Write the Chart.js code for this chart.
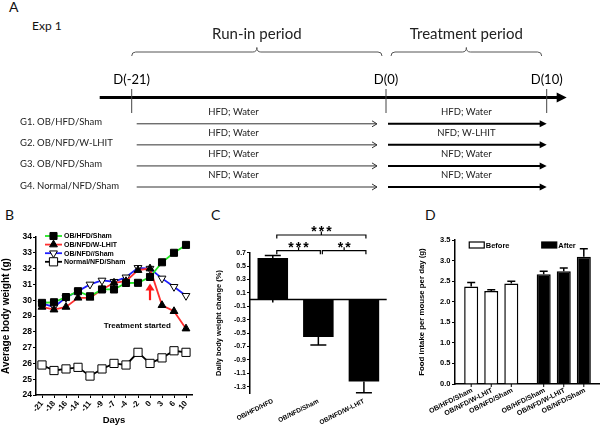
<!DOCTYPE html>
<html>
<head>
<meta charset="utf-8">
<script src="https://cdn.jsdelivr.net/npm/chart.js@4.4.1/dist/chart.umd.min.js"></script>
<style>
    body { margin:0; background:#fff; }
    #fig { position:relative; width:600px; height:427px; overflow:hidden; }
    canvas { position:absolute; }
    .tag { position:absolute; font-family:Lato, sans-serif; color:#111; line-height:16px; }
</style>
</head>
<body>
<div id="fig">
    <div class="tag" style="left:9px;top:-1px;font-size:14px">A</div>
    <div class="tag" style="left:32px;top:18px;font-size:12px">Exp 1</div>
    <div class="tag" style="left:5px;top:207px;font-size:14px">B</div>
    <div class="tag" style="left:211px;top:207px;font-size:14px">C</div>
    <div class="tag" style="left:425px;top:207px;font-size:14px">D</div>

    <canvas id="runIn" width="600" height="210" style="left:0;top:0"></canvas>
    <canvas id="treat" width="600" height="210" style="left:0;top:0"></canvas>
    <canvas id="weight" width="200" height="202" style="left:0;top:225px"></canvas>
    <canvas id="change" width="195" height="209" style="left:200px;top:218px"></canvas>
    <canvas id="intake" width="205" height="202" style="left:395px;top:225px"></canvas>
</div>

<script>
// ---- A: study design ----
const periodNames = ['Run-in period', 'Treatment period'];
const periodStart = [-21, 0];
const periodEnd = [0, 10];
const groupNames = ['G1. OB/HFD/Sham', 'G2. OB/NFD/W-LHIT', 'G3. OB/NFD/Sham', 'G4. Normal/NFD/Sham'];
const runInDiet = ['HFD; Water', 'HFD; Water', 'HFD; Water', 'NFD; Water'];
const treatDiet = ['HFD; Water', 'NFD; W-LHIT', 'NFD; Water', 'NFD; Water'];

// ---- B: body weight ----
const days = ['-21', '-18', '-16', '-14', '-11', '-9', '-7', '-4', '-2', '0', '3', '6', '10'];
const hfdSham = [29.83, 29.87, 30.2, 30.57, 30.25, 30.68, 30.68, 31.09, 31.1, 31.47, 32.4, 33.0, 33.5];
const nfdWlhit = [29.57, 29.4, 29.57, 30.15, 30.15, 30.68, 31.1, 31.2, 31.9, 32.0, 29.68, 29.3, 28.2];
const nfdSham = [29.8, 29.57, 30.17, 30.57, 31.0, 31.25, 31.17, 31.45, 32.05, 32.0, 31.38, 30.85, 30.28];
const normalSham = [25.9, 25.55, 25.65, 25.75, 25.2, 25.65, 26.0, 25.9, 26.7, 26.0, 26.35, 26.8, 26.7];

// ---- C: daily weight change ----
const changeGroups = ['OB/HFD/HFD', 'OB/NFD/Sham', 'OB/NFD/W-LHIT'];
const changeMean = [0.62, -0.56, -1.225];
const changeSem = [0.04, 0.12, 0.165];
const changeTicks = [0.7, 0.5, 0.3, 0.1, -0.1, -0.3, -0.5, -0.7, -0.9, -1.1, -1.3];
const sigPairs = [[0, 1], [1, 2], [0, 2]];
const sigMarks = ['***', '**', '***'];

// ---- D: food intake ----
const intakePhases = ['Before', 'After'];
const intakeGroups = ['OB/HFD/Sham', 'OB/NFD/W-LHIT', 'OB/NFD/Sham'];
const intakeBefore = [2.37, 2.26, 2.44];
const intakeAfter = [2.67, 2.74, 3.09];
const intakeBeforeSem = [0.1, 0.03, 0.06];
const intakeAfterSem = [0.07, 0.08, 0.2];

const ARIAL = "'Liberation Sans', Arial, sans-serif";
const phaseFill = ['#fff', '#000'];

Chart.defaults.animation = false;
Chart.defaults.responsive = false;
Chart.defaults.color = '#000';
Chart.defaults.font.family = ARIAL;
Chart.defaults.font.weight = 'bold';
Chart.defaults.plugins.legend.display = false;
Chart.defaults.plugins.tooltip.enabled = false;

function arrowHead(ctx, x, y, len, half, filled) {
    ctx.beginPath();
    ctx.moveTo(x - len, y - half);
    ctx.lineTo(x, y);
    ctx.lineTo(x - len, y + half);
    if (filled) { ctx.closePath(); ctx.fill(); } else ctx.stroke();
}

// draws one period of the timeline using the chart's day scale
const timelinePlugin = {
    id:'timeline',
    afterDraw(chart, args, o) {
        const { ctx } = chart;
        const xs = chart.scales.x, ys = chart.scales.y;
        const p = o.period;
        const x0 = xs.getPixelForValue(periodStart[p]);
        const x1 = xs.getPixelForValue(periodEnd[p]);
        const axisY = 97.5;
        const diets = p === 0 ? runInDiet : treatDiet;

        ctx.save();
        ctx.fillStyle = '#000';
        ctx.strokeStyle = '#000';

        // main time axis
        ctx.lineWidth = 3;
        ctx.beginPath();
        ctx.moveTo(x0 - o.axisBefore, axisY);
        ctx.lineTo(x1 + (o.axisAfter ? o.axisAfter - 6 : 0), axisY);
        ctx.stroke();
        if (o.axisAfter) arrowHead(ctx, x1 + o.axisAfter, axisY, 10, 5, true);

        // day marks
        ctx.lineWidth = 1;
        ctx.strokeStyle = '#444';
        ctx.font = '13px Lato';
        ctx.textAlign = 'center';
        ctx.textBaseline = 'middle';
        o.marks.forEach(d => {
            const x = xs.getPixelForValue(d);
            ctx.beginPath();
            ctx.moveTo(x, 89);
            ctx.lineTo(x, 113);
            ctx.stroke();
            ctx.fillText(`D(${d})`, x, 80);
        });

        // brace with period name
        const bx0 = x0 + o.braceIn[0], bx1 = x1 - o.braceIn[1], bm = (bx0 + bx1) / 2;
        ctx.strokeStyle = '#555';
        ctx.beginPath();
        ctx.moveTo(bx0, 56);
        ctx.quadraticCurveTo(bx0, 52, bx0 + 4, 52);
        ctx.lineTo(bm - 4, 52);
        ctx.quadraticCurveTo(bm, 52, bm, 47.5);
        ctx.quadraticCurveTo(bm, 52, bm + 4, 52);
        ctx.lineTo(bx1 - 4, 52);
        ctx.quadraticCurveTo(bx1, 52, bx1, 56);
        ctx.stroke();
        ctx.font = '15px Lato';
        ctx.fillStyle = '#222';
        ctx.fillText(periodNames[p], bm, 34);

        // group rows
        ys.getLabels().forEach((name, i) => {
            const y = ys.getPixelForValue(i);
            ctx.fillStyle = '#222';
            ctx.font = '9.5px Lato';
            if (p === 0) {
                ctx.textAlign = 'left';
                ctx.fillText(name, 20, y - 1.5);
            }
            ctx.textAlign = 'center';
            ctx.fillText(diets[i], x0 + o.textAt * (x1 - x0), y - 12);

            ctx.strokeStyle = '#333';
            ctx.fillStyle = '#000';
            if (p === 0) {
                ctx.lineWidth = 1;
                ctx.beginPath();
                ctx.moveTo(x0 + 5, y);
                ctx.lineTo(x1 - 9, y);
                ctx.stroke();
                arrowHead(ctx, x1 - 9, y, 5, 3, false);
            } else {
                ctx.lineWidth = 2;
                ctx.strokeStyle = '#000';
                ctx.beginPath();
                ctx.moveTo(x0 + 2, y);
                ctx.lineTo(x1 - 4, y);
                ctx.stroke();
                arrowHead(ctx, x1, y, 7, 3.5, true);
            }
        });
        ctx.restore();
    }
};

function timelineChart(id, p, padLeft, padRight, extra) {
    return new Chart(document.getElementById(id), {
        type:'scatter',
        data:{ datasets:[] },
        options:{
            layout:{ padding:{ left:padLeft, right:padRight, top:123.8, bottom:23 } },
            scales:{
                x:{ type:'linear', display:false, min:periodStart[p], max:periodEnd[p] },
                y:{ type:'category', display:false, labels:groupNames }
            },
            plugins:{ timeline:Object.assign({ period:p }, extra) }
        },
        plugins:[timelinePlugin]
    });
}

timelineChart('runIn', 0, 131.7, 214, { marks:[-21], axisBefore:32, axisAfter:0, braceIn:[0, 4], textAt:0.4 });
timelineChart('treat', 1, 386, 53.3, { marks:[0, 10], axisBefore:0, axisAfter:20, braceIn:[5, 5], textAt:0.5 });

// ---- B ----
const seriesLegendPlugin = {
    id:'seriesLegend',
    afterDraw(chart) {
        const { ctx, chartArea } = chart;
        ctx.save();
        chart.data.datasets.forEach((ds, i) => {
            const x = chartArea.left + 9;
            const y = chartArea.top - 1 + i * 8.6;
            ctx.strokeStyle = ds.borderColor;
            ctx.lineWidth = ds.borderWidth;
            ctx.beginPath();
            ctx.moveTo(x, y);
            ctx.lineTo(x + 17, y);
            ctx.stroke();
            ctx.fillStyle = ds.pointBackgroundColor;
            ctx.strokeStyle = ds.pointBorderColor;
            ctx.lineWidth = ds.pointBorderWidth;
            Chart.helpers.drawPoint(ctx, {
                pointStyle:ds.pointStyle, rotation:ds.pointRotation || 0,
                radius:ds.pointRadius, borderWidth:ds.pointBorderWidth
            }, x + 8.5, y);
            ctx.fillStyle = '#000';
            ctx.font = `bold 7px ${ARIAL}`;
            ctx.textAlign = 'left';
            ctx.textBaseline = 'middle';
            ctx.fillText(ds.label, x + 19, y + 0.5);
        });
        ctx.restore();
    }
};

const treatmentMarkPlugin = {
    id:'treatmentMark',
    afterDatasetsDraw(chart, args, o) {
        const { ctx } = chart;
        const xs = chart.scales.x, ys = chart.scales.y;
        const x = xs.getPixelForValue(days.indexOf(o.day));
        const tail = ys.getPixelForValue(o.from), tip = ys.getPixelForValue(o.to);
        ctx.save();
        ctx.strokeStyle = '#ff1a1a';
        ctx.fillStyle = '#ff1a1a';
        ctx.lineWidth = 2.2;
        ctx.beginPath();
        ctx.moveTo(x, tail);
        ctx.lineTo(x, tip + 5);
        ctx.stroke();
        ctx.beginPath();
        ctx.moveTo(x, tip);
        ctx.lineTo(x - 4.5, tip + 7);
        ctx.lineTo(x + 4.5, tip + 7);
        ctx.closePath();
        ctx.fill();
        ctx.fillStyle = '#000';
        ctx.font = `bold 8px ${ARIAL}`;
        ctx.textAlign = 'center';
        ctx.textBaseline = 'middle';
        ctx.fillText('Treatment started', x - 12.7, ys.getPixelForValue(o.textAt));
        ctx.restore();
    }
};

function series(label, data, color, style, radius, fill, rotation) {
    return {
        label, data,
        borderColor:color, borderWidth:1.8, tension:0,
        pointStyle:style, pointRadius:radius, pointRotation:rotation || 0,
        pointBackgroundColor:fill, pointBorderColor:'#000', pointBorderWidth:1
    };
}

new Chart(document.getElementById('weight'), {
    type:'line',
    data:{
        labels:days,
        datasets:[
            series('OB/HFD/Sham', hfdSham, '#22e622', 'rect', 5, '#000'),
            series('OB/NFD/W-LHIT', nfdWlhit, '#ff3030', 'triangle', 4.5, '#000'),
            series('OB/NFD//Sham', nfdSham, '#1f1fff', 'triangle', 4.5, '#fff', 180),
            series('Normal/NFD/Sham', normalSham, '#000', 'rect', 5.8, '#fff')
        ]
    },
    options:{
        layout:{ padding:{ left:0, top:12, right:8, bottom:0 } },
        scales:{
            x:{
                offset:true,
                grid:{ drawOnChartArea:false, color:'#000', tickLength:3 },
                border:{ color:'#000', width:1.5 },
                ticks:{ font:{ size:8 }, minRotation:50, maxRotation:50, autoSkip:false, padding:1 },
                title:{ display:true, text:'Days', font:{ size:9.5 }, padding:{ top:0, bottom:1 } },
                afterFit(scale) { scale.height = 32; }
            },
            y:{
                min:24, max:34,
                ticks:{ stepSize:1, font:{ size:8.5 }, padding:1 },
                grid:{ drawOnChartArea:false, color:'#000', tickLength:3 },
                border:{ color:'#000', width:1.5 },
                title:{ display:true, text:'Average body weight (g)', font:{ size:10 }, padding:0 },
                afterFit(scale) { scale.width = 36; }
            }
        },
        plugins:{ treatmentMark:{ day:'0', from:30.0, to:31.05, textAt:28.4 } }
    },
    plugins:[seriesLegendPlugin, treatmentMarkPlugin]
});

// ---- shared error bars ----
const errorBarPlugin = {
    id:'errorBars',
    afterDatasetsDraw(chart, args, o) {
        const { ctx } = chart;
        const ys = chart.scales.y;
        ctx.save();
        ctx.strokeStyle = '#000';
        ctx.lineWidth = 1.5;
        chart.data.datasets.forEach((ds, di) => {
            chart.getDatasetMeta(di).data.forEach((bar, i) => {
                const v = ds.data[i];
                const tip = ys.getPixelForValue(v + Math.sign(v) * ds.errors[i]);
                ctx.beginPath();
                ctx.moveTo(bar.x, bar.y);
                ctx.lineTo(bar.x, tip);
                ctx.moveTo(bar.x - o.cap / 2, tip);
                ctx.lineTo(bar.x + o.cap / 2, tip);
                ctx.stroke();
            });
        });
        ctx.restore();
    }
};

// ---- C ----
const significancePlugin = {
    id:'significance',
    afterDatasetsDraw(chart, args, o) {
        const { ctx, chartArea } = chart;
        const ys = chart.scales.y;
        const bars = chart.getDatasetMeta(0).data;
        const y0 = ys.getPixelForValue(0);
        ctx.save();
        ctx.strokeStyle = '#000';
        ctx.fillStyle = '#000';

        // zero axis with tick marks
        ctx.lineWidth = 1.5;
        ctx.beginPath();
        ctx.moveTo(chartArea.left, y0);
        ctx.lineTo(chartArea.right, y0);
        bars.forEach(bar => { ctx.moveTo(bar.x, y0); ctx.lineTo(bar.x, y0 + 3); });
        ctx.stroke();

        ctx.lineWidth = 1.2;
        ctx.font = `bold 14px ${ARIAL}`;
        ctx.textAlign = 'center';
        ctx.textBaseline = 'alphabetic';
        sigPairs.forEach(([a, b], i) => {
            const x1 = bars[a].x + 4, x2 = bars[b].x + 2, xm = (x1 + x2) / 2;
            const y = chartArea.top - o.lift[i];
            ctx.beginPath();
            ctx.moveTo(x1, y + 3.5);
            ctx.lineTo(x1, y);
            ctx.lineTo(x2, y);
            ctx.lineTo(x2, y + 3.5);
            ctx.moveTo(xm, y);
            ctx.lineTo(xm, y - 3.5);
            ctx.stroke();
            const marks = sigMarks[i];
            for (let k = 0; k < marks.length; k++) {
                ctx.fillText(marks[k], xm + (k - (marks.length - 1) / 2) * 7.5, y + 1);
            }
        });
        ctx.restore();
    }
};

new Chart(document.getElementById('change'), {
    type:'bar',
    data:{
        labels:changeGroups,
        datasets:[{ data:changeMean, errors:changeSem, backgroundColor:'#000', barPercentage:0.67, categoryPercentage:1 }]
    },
    options:{
        layout:{ padding:{ left:0, top:34.7, right:8.3, bottom:0 } },
        scales:{
            x:{
                grid:{ display:false, drawTicks:false },
                border:{ display:false },
                ticks:{ font:{ size:6.5 }, minRotation:27, maxRotation:27, autoSkip:false, padding:4 },
                afterFit(scale) { scale.height = 33.7; }
            },
            y:{
                min:-1.4, max:0.7,
                afterBuildTicks(scale) { scale.ticks = changeTicks.map(value => ({ value })); },
                ticks:{ font:{ size:7 }, padding:1, callback:v => v.toFixed(1) },
                grid:{ drawOnChartArea:false, color:'#000', tickLength:3 },
                border:{ color:'#000', width:1.5 },
                title:{ display:true, text:'Daily body weight change (%)', font:{ size:7.5 }, padding:{ top:14, bottom:0 } },
                afterFit(scale) { scale.width = 50; }
            }
        },
        plugins:{ errorBars:{ cap:16 }, significance:{ lift:[2, 2, 17.7] } }
    },
    plugins:[errorBarPlugin, significancePlugin]
});

// ---- D ----
const intakeLabelPlugin = {
    id:'intakeLabels',
    afterDraw(chart) {
        const { ctx, chartArea } = chart;
        const xs = chart.scales.x;
        ctx.save();
        ctx.strokeStyle = '#000';
        ctx.fillStyle = '#000';
        ctx.lineWidth = 1;
        ctx.font = `bold 7px ${ARIAL}`;
        chart.data.datasets.forEach((ds, di) => {
            chart.getDatasetMeta(di).data.forEach(bar => {
                ctx.beginPath();
                ctx.moveTo(bar.x, chartArea.bottom);
                ctx.lineTo(bar.x, chartArea.bottom + 3);
                ctx.stroke();
                ctx.save();
                ctx.translate(bar.x + 1, chartArea.bottom + 6);
                ctx.rotate(-27 * Math.PI / 180);
                ctx.textAlign = 'right';
                ctx.textBaseline = 'middle';
                ctx.fillText(ds.label, 0, 0);
                ctx.restore();
            });
        });

        // legend: one key above each phase
        intakePhases.forEach((name, i) => {
            const x = xs.getPixelForValue(i) - 22;
            const y = chartArea.top + 5;
            ctx.fillStyle = phaseFill[i];
            ctx.fillRect(x, y - 3, 15, 6);
            ctx.lineWidth = 1.2;
            ctx.strokeRect(x, y - 3, 15, 6);
            ctx.fillStyle = '#000';
            ctx.font = `bold 7.5px ${ARIAL}`;
            ctx.textAlign = 'left';
            ctx.textBaseline = 'middle';
            ctx.fillText(name, x + 16.5, y + 0.5);
        });
        ctx.restore();
    }
};

new Chart(document.getElementById('intake'), {
    type:'bar',
    data:{
        labels:intakePhases,
        datasets:intakeGroups.map((name, i) => ({
            label:name,
            data:[intakeBefore[i], intakeAfter[i]],
            errors:[intakeBeforeSem[i], intakeAfterSem[i]],
            backgroundColor:phaseFill,
            borderColor:'#000',
            borderWidth:1.5,
            barPercentage:0.7,
            categoryPercentage:0.83
        }))
    },
    options:{
        layout:{ padding:{ left:0, top:15, right:0, bottom:0 } },
        scales:{
            x:{
                grid:{ display:false, drawTicks:false },
                border:{ color:'#000', width:1.5 },
                ticks:{ display:false },
                afterFit(scale) { scale.height = 43; }
            },
            y:{
                min:0, max:3.5,
                ticks:{ stepSize:0.5, font:{ size:7.5 }, padding:1.5, callback:v => v.toFixed(1) },
                grid:{ drawOnChartArea:false, color:'#000', tickLength:3 },
                border:{ color:'#000', width:1.5 },
                title:{ display:true, text:'Food intake per mouse per day (g)', font:{ size:7.8 }, padding:{ top:22, bottom:0 } },
                afterFit(scale) { scale.width = 60; }
            }
        },
        plugins:{ errorBars:{ cap:8 } }
    },
    plugins:[errorBarPlugin, intakeLabelPlugin]
});
</script>
</body>
</html>
